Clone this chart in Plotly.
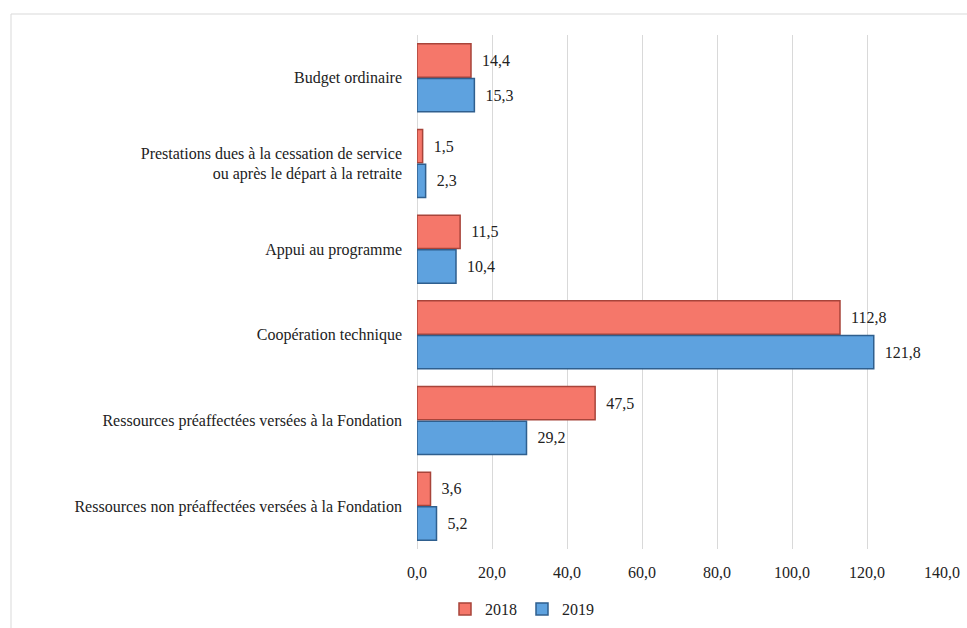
import plotly.graph_objects as go

categories = [
    "Budget ordinaire",
    "Prestations dues à la cessation de service<br>ou après le départ à la retraite",
    "Appui au programme",
    "Coopération technique",
    "Ressources préaffectées versées à la Fondation",
    "Ressources non préaffectées versées à la Fondation",
]
values_2018 = [14.4, 1.5, 11.5, 112.8, 47.5, 3.6]
values_2019 = [15.3, 2.3, 10.4, 121.8, 29.2, 5.2]
x_ticks = [0, 20, 40, 60, 80, 100, 120, 140]

FONT = "'Liberation Serif', 'Times New Roman', serif"

fig = go.Figure()
fig.add_trace(go.Bar(
    name="2018", y=categories, x=values_2018, orientation="h",
    marker=dict(color="#F5776A", line=dict(color="#A8443A", width=1.5)),
    text=values_2018, texttemplate="  %{x:.1f}", textposition="outside",
    textfont=dict(family=FONT, size=16, color="#222222"), cliponaxis=False,
))
fig.add_trace(go.Bar(
    name="2019", y=categories, x=values_2019, orientation="h",
    marker=dict(color="#5EA2DF", line=dict(color="#2F5F8E", width=1.5)),
    text=values_2019, texttemplate="  %{x:.1f}", textposition="outside",
    textfont=dict(family=FONT, size=16, color="#222222"), cliponaxis=False,
))

W, H = 967, 628
L, R, T, B = 417, 25, 35, 79
pw, ph = W - L - R, H - T - B

fig.update_layout(
    width=W, height=H,
    margin=dict(l=L, r=R, t=T, b=B, autoexpand=False),
    paper_bgcolor="white", plot_bgcolor="white",
    separators=", ",
    barmode="group", bargap=0.19, bargroupgap=0.04,
    font=dict(family=FONT, size=16, color="#222222"),
    showlegend=True,
    legend=dict(orientation="h", x=(522 - L) / pw, xanchor="center",
                y=-(592 - T - ph) / ph, yanchor="top",
                font=dict(family=FONT, size=16), itemwidth=30, traceorder="normal"),
    xaxis=dict(range=[0, 140], tickvals=x_ticks, tickformat=".1f",
               showgrid=True, gridcolor="#D9D9D9", gridwidth=1,
               zeroline=True, zerolinecolor="#D9D9D9", zerolinewidth=1,
               showline=False, ticks="", ticklabelstandoff=12,
               tickfont=dict(family=FONT, size=16), automargin=False),
    yaxis=dict(autorange="reversed", showgrid=False, showline=False, ticks="",
               ticklabelstandoff=14, tickfont=dict(family=FONT, size=16), automargin=False),
    shapes=[dict(type="rect", xref="paper", yref="paper",
                 x0=(11 - L) / pw, x1=(W + 20 - L) / pw,
                 y0=-(H + 20 - T - ph) / ph, y1=1 + (T - 14) / ph,
                 line=dict(color="#D9D9D9", width=1), layer="below")],
)

fig.write_html("out.html")
